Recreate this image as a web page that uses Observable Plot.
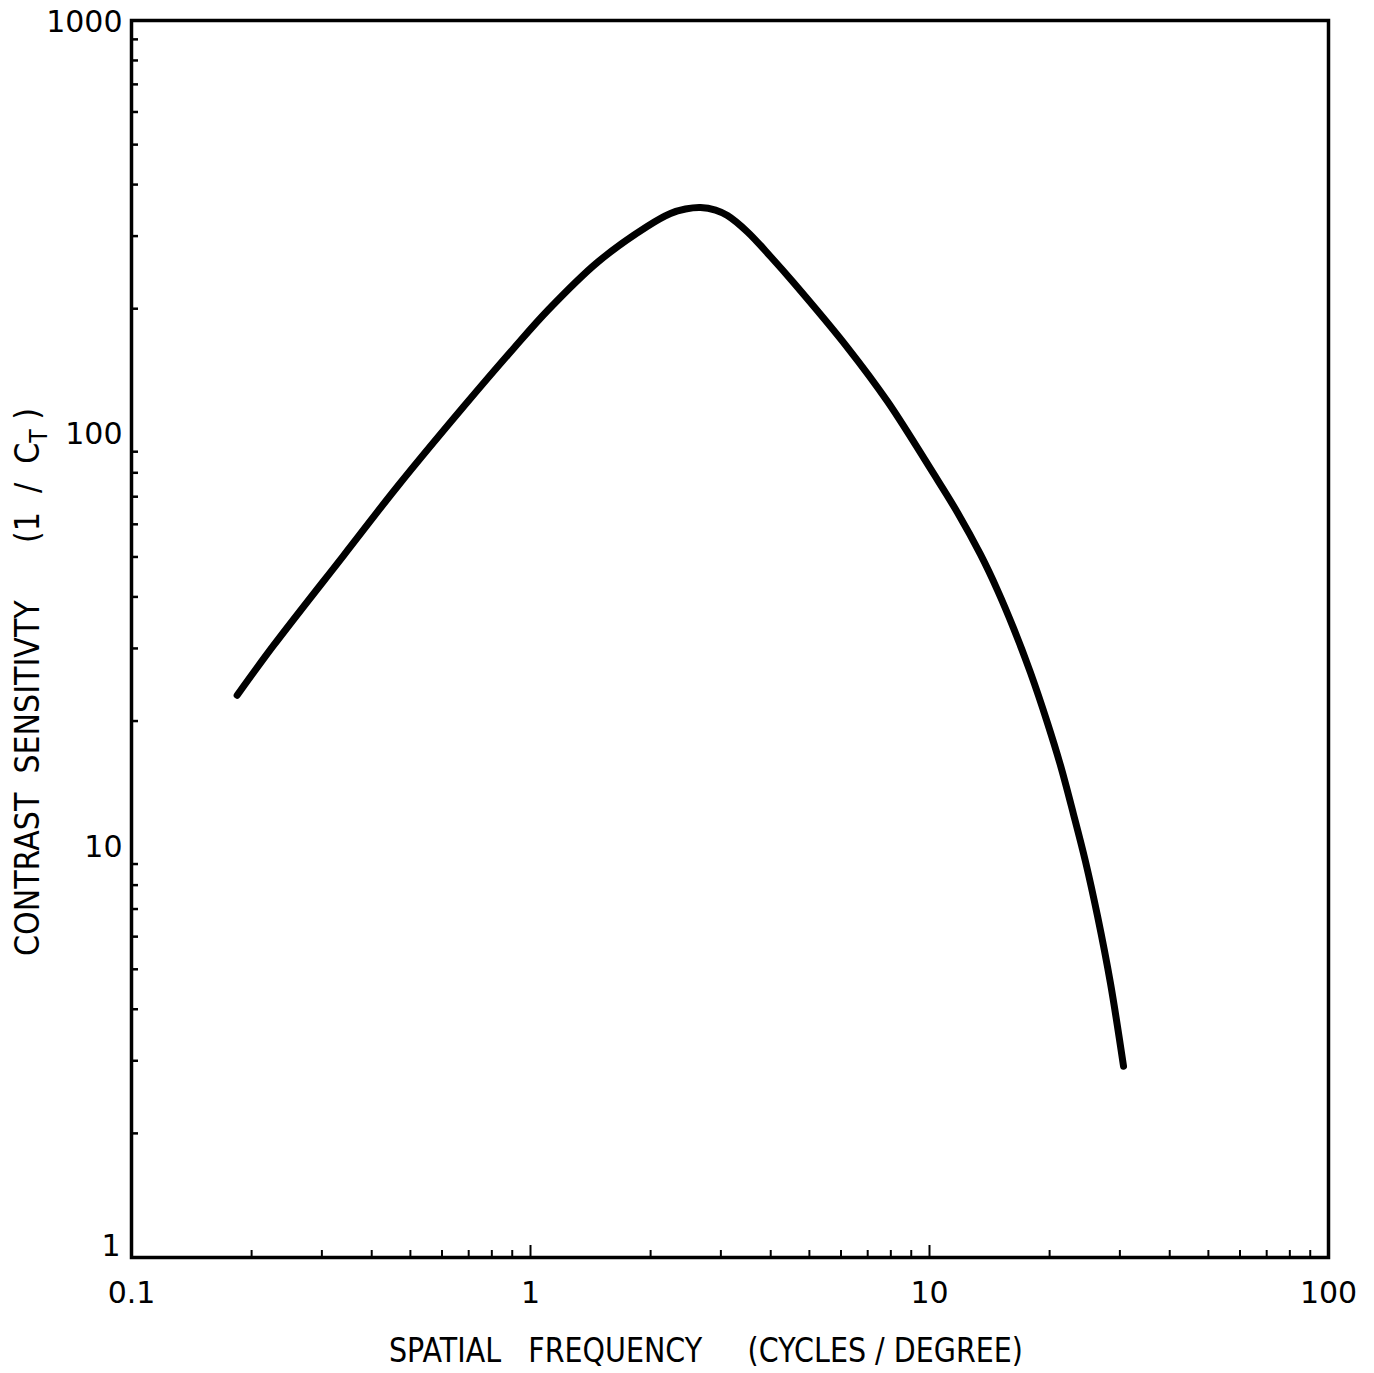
<!DOCTYPE html>
<html><head><meta charset="utf-8">
<script src="https://cdn.jsdelivr.net/npm/d3@7"></script>
<script src="https://cdn.jsdelivr.net/npm/@observablehq/plot@0.6"></script>
<style>body{margin:0;background:#fff}</style>
</head><body><div id="chart"></div>
<script>
// Contrast sensitivity function
const freq = [0.184, 0.227, 0.340, 0.464, 0.680, 0.907, 1.11, 1.47, 1.96, 2.243, 2.446, 2.668, 2.909, 3.116, 3.499, 3.995, 4.561, 6.23, 7.85, 10.23, 11.75, 13.42, 14.81, 16.24, 17.91, 19.75, 21.30, 22.95, 24.60, 26.37, 28.42, 30.64];
const sens = [23.1, 30.5, 50.4, 74.1, 115.8, 160.2, 199.1, 258.9, 316.5, 340.3, 349.0, 352.0, 347.0, 336.5, 307.0, 267.7, 231.5, 161.0, 119.1, 79.7, 64.1, 50.7, 41.5, 33.6, 26.2, 19.8, 15.6, 11.9, 9.13, 6.73, 4.62, 2.91];

const xMajor = [0.1, 1, 10, 100];
const xTickLabels = ["0.1", "1", "10", "100"];
const xMinor = [0.2, 0.3, 0.4, 0.5, 0.6, 0.7, 0.8, 0.9, 2, 3, 4, 5, 6, 7, 8, 9, 20, 30, 40, 50, 60, 70, 80, 90];
const yMajor = [1, 10, 100, 1000];
const yTickLabels = ["1", "10", "100", "1000"];
const yMinor = [2, 3, 4, 5, 6, 7, 8, 9, 20, 30, 40, 50, 60, 70, 80, 90, 200, 300, 400, 500, 600, 700, 800, 900];

const xTitle = ["SPATIAL\u00a0\u00a0\u00a0FREQUENCY\u00a0\u00a0\u00a0\u00a0\u00a0(CYCLES\u00a0/\u00a0DEGREE)"];
const yTitle = ["CONTRAST\u00a0\u00a0SENSITIVTY\u00a0\u00a0\u00a0\u00a0\u00a0\u00a0(1\u00a0\u00a0/\u00a0\u00a0C|T\u00a0)"];

const W = 1374, H = 1373;
const mL = 131, mR = 46, mT = 20, mB = 116;
const pw = W - mL - mR, ph = H - mT - mB;
const font = "'DejaVu Sans', sans-serif";

const data = freq.map((f, i) => ({f, s: sens[i]}));

const chart = Plot.plot({
  width: W, height: H,
  marginLeft: mL, marginRight: mR, marginTop: mT, marginBottom: mB,
  style: {fontFamily: font, background: "#fff", color: "#000"},
  x: {type: "log", domain: [0.1, 100], axis: null},
  y: {type: "log", domain: [1, 1000], axis: null},
  marks: [
    Plot.frame({stroke: "#000", strokeWidth: 3.5}),
    Plot.tickX(xMinor, {x: d => d, insetTop: ph - 7, stroke: "#000", strokeWidth: 2}),
    Plot.tickX(xMajor, {x: d => d, insetTop: ph - 12, stroke: "#000", strokeWidth: 2}),
    Plot.tickY(yMinor, {y: d => d, insetRight: pw - 7, stroke: "#000", strokeWidth: 2.5}),
    Plot.text(xMajor, {x: d => d, text: (d, i) => xTickLabels[i], frameAnchor: "bottom", dy: 36, lineAnchor: "middle", fontSize: 30, fill: "#000"}),
    Plot.text(yMajor.slice(1), {y: d => d, text: (d, i) => yTickLabels[i + 1], frameAnchor: "left", textAnchor: "end", dx: -9, dy: 2, lineAnchor: "middle", fontSize: 30, fill: "#000"}),
    Plot.text(yMajor.slice(0, 1), {y: d => d, text: (d, i) => yTickLabels[i], frameAnchor: "left", textAnchor: "end", dx: -11, dy: -11, lineAnchor: "middle", fontSize: 30, fill: "#000"}),
    Plot.text(xTitle, {text: d => d, frameAnchor: "bottom", textAnchor: "middle", dx: -24, dy: 94, lineAnchor: "middle", fontSize: 33, fill: "#000"}),
    Plot.text(yTitle, {text: d => d, frameAnchor: "left", textAnchor: "middle", rotate: -90, dx: -103, dy: 43, lineAnchor: "middle", fontSize: 33, fill: "#000"}),
    Plot.line(data, {x: "f", y: "s", curve: "catmull-rom", stroke: "#000", strokeWidth: 7, strokeLinecap: "round", strokeLinejoin: "round"})
  ]
});
document.getElementById("chart").appendChild(chart);

d3.select(chart).selectAll("text").each(function() {
  const t = this.textContent;
  const sel = d3.select(this);
  if (t.includes("C|T")) {
    // subscript T in the y title
    const [a, b] = t.split("C|T");
    sel.text("");
    sel.append("tspan").text(a + "C");
    sel.append("tspan").attr("dy", 8).attr("font-size", 24).text("T");
    sel.append("tspan").attr("dy", -8).text(b);
    sel.attr("textLength", 548).attr("lengthAdjust", "spacingAndGlyphs");
  } else if (t.startsWith("SPATIAL")) {
    sel.attr("textLength", 634).attr("lengthAdjust", "spacingAndGlyphs");
  }
});
</script>
</body></html>
